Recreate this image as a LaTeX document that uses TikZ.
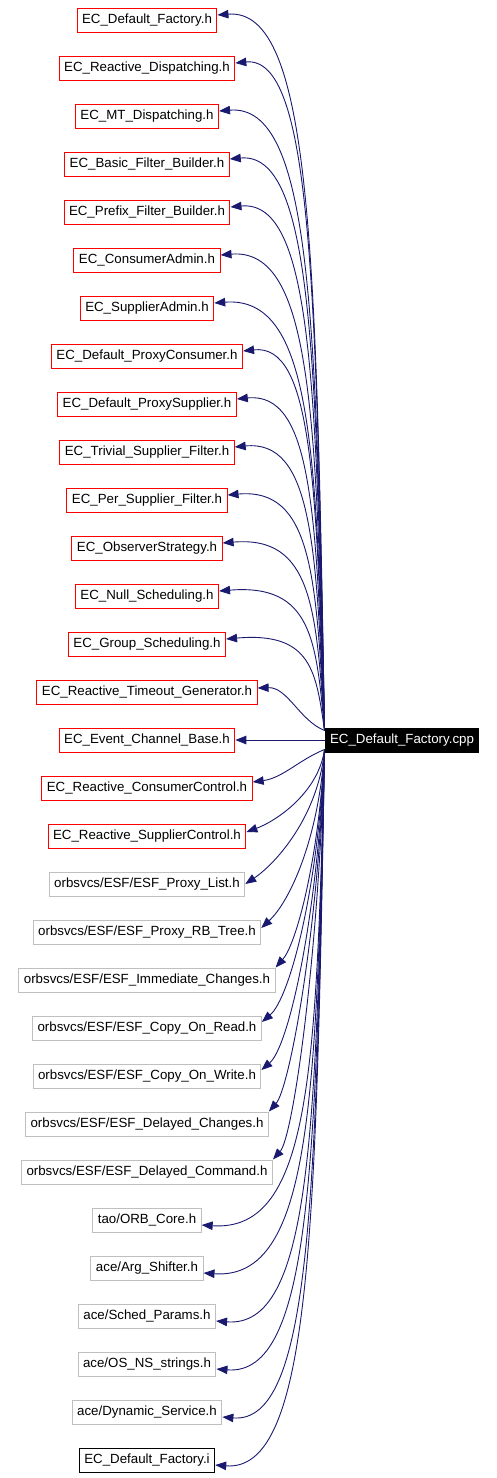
\documentclass[tikz,border=0pt]{standalone}
\usepackage{fontspec}
\setmainfont{Liberation Sans}
\usetikzlibrary{calc,arrows.meta}
\definecolor{edgeblue}{HTML}{191970}
\definecolor{boxgray}{HTML}{BFBFBF}
\tikzset{
  file/.style={draw, line width=1pt, font=\fontsize{13.3}{15}\selectfont,
    inner xsep=5pt, inner ysep=0pt, minimum height=24pt},
  local/.style={file, draw=red},
  extern/.style={file, draw=boxgray},
  plain/.style={file, draw=black},
  edge/.style={draw=edgeblue, line width=0.9pt, -{Triangle[length=11pt,width=8.5pt]}},
}
\begin{document}
\begin{tikzpicture}[x=1pt,y=-1pt]
  \useasboundingbox (0,0) rectangle (496,1478);
  % Archivo raiz
  \node[file, fill=black, text=white] (root) at (402,740) {EC\_Default\_Factory.cpp};
  \coordinate (bend) at (312,0);
  \coordinate (top) at ([yshift=-3pt]root.north west);
  \coordinate (bot) at ([yshift=3pt]root.south west);
  % Cabeceras locales
  \node[local] (n0) at (147,20) {EC\_Default\_Factory.h};
  \node[local] (n1) at (147,68) {EC\_Reactive\_Dispatching.h};
  \node[local] (n2) at (147,116) {EC\_MT\_Dispatching.h};
  \node[local] (n3) at (147,164) {EC\_Basic\_Filter\_Builder.h};
  \node[local] (n4) at (147,212) {EC\_Prefix\_Filter\_Builder.h};
  \node[local] (n5) at (147,260) {EC\_ConsumerAdmin.h};
  \node[local] (n6) at (147,308) {EC\_SupplierAdmin.h};
  \node[local] (n7) at (147,356) {EC\_Default\_ProxyConsumer.h};
  \node[local] (n8) at (147,404) {EC\_Default\_ProxySupplier.h};
  \node[local] (n9) at (147,452) {EC\_Trivial\_Supplier\_Filter.h};
  \node[local] (n10) at (147,500) {EC\_Per\_Supplier\_Filter.h};
  \node[local] (n11) at (147,548) {EC\_ObserverStrategy.h};
  \node[local] (n12) at (147,596) {EC\_Null\_Scheduling.h};
  \node[local] (n13) at (147,644) {EC\_Group\_Scheduling.h};
  \node[local] (n14) at (147,692) {EC\_Reactive\_Timeout\_Generator.h};
  \node[local] (n15) at (147,740) {EC\_Event\_Channel\_Base.h};
  \node[local] (n16) at (147,788) {EC\_Reactive\_ConsumerControl.h};
  \node[local] (n17) at (147,836) {EC\_Reactive\_SupplierControl.h};
  % Cabeceras externas
  \node[extern] (n18) at (147,884) {orbsvcs/ESF/ESF\_Proxy\_List.h};
  \node[extern] (n19) at (147,932) {orbsvcs/ESF/ESF\_Proxy\_RB\_Tree.h};
  \node[extern] (n20) at (147,980) {orbsvcs/ESF/ESF\_Immediate\_Changes.h};
  \node[extern] (n21) at (147,1028) {orbsvcs/ESF/ESF\_Copy\_On\_Read.h};
  \node[extern] (n22) at (147,1076) {orbsvcs/ESF/ESF\_Copy\_On\_Write.h};
  \node[extern] (n23) at (147,1124) {orbsvcs/ESF/ESF\_Delayed\_Changes.h};
  \node[extern] (n24) at (147,1172) {orbsvcs/ESF/ESF\_Delayed\_Command.h};
  \node[extern] (n25) at (147,1220) {tao/ORB\_Core.h};
  \node[extern] (n26) at (147,1268) {ace/Arg\_Shifter.h};
  \node[extern] (n27) at (147,1316) {ace/Sched\_Params.h};
  \node[extern] (n28) at (147,1364) {ace/OS\_NS\_strings.h};
  \node[extern] (n29) at (147,1412) {ace/Dynamic\_Service.h};
  \node[plain] (n30) at (147,1460) {EC\_Default\_Factory.i};
  % Flechas hacia arriba
  \draw[edge] (top) .. controls ($(top)!.67!(bend |- n0.east)$) and (bend |- n0.north) .. ([yshift=5pt]n0.east);
  \draw[edge] (top) .. controls ($(top)!.67!(bend |- n1.east)$) and (bend |- n1.north) .. ([yshift=5pt]n1.east);
  \draw[edge] (top) .. controls ($(top)!.67!(bend |- n2.east)$) and (bend |- n2.north) .. ([yshift=5pt]n2.east);
  \draw[edge] (top) .. controls ($(top)!.67!(bend |- n3.east)$) and (bend |- n3.north) .. ([yshift=5pt]n3.east);
  \draw[edge] (top) .. controls ($(top)!.67!(bend |- n4.east)$) and (bend |- n4.north) .. ([yshift=5pt]n4.east);
  \draw[edge] (top) .. controls ($(top)!.67!(bend |- n5.east)$) and (bend |- n5.north) .. ([yshift=5pt]n5.east);
  \draw[edge] (top) .. controls ($(top)!.67!(bend |- n6.east)$) and (bend |- n6.north) .. ([yshift=5pt]n6.east);
  \draw[edge] (top) .. controls ($(top)!.67!(bend |- n7.east)$) and (bend |- n7.north) .. ([yshift=5pt]n7.east);
  \draw[edge] (top) .. controls ($(top)!.67!(bend |- n8.east)$) and (bend |- n8.north) .. ([yshift=5pt]n8.east);
  \draw[edge] (top) .. controls ($(top)!.67!(bend |- n9.east)$) and (bend |- n9.north) .. ([yshift=5pt]n9.east);
  \draw[edge] (top) .. controls ($(top)!.67!(bend |- n10.east)$) and (bend |- n10.north) .. ([yshift=5pt]n10.east);
  \draw[edge] (top) .. controls ($(top)!.67!(bend |- n11.east)$) and (bend |- n11.north) .. ([yshift=5pt]n11.east);
  \draw[edge] (top) .. controls ($(top)!.67!(bend |- n12.east)$) and (bend |- n12.north) .. ([yshift=5pt]n12.east);
  \draw[edge] (top) .. controls ($(top)!.67!(bend |- n13.east)$) and (bend |- n13.north) .. ([yshift=5pt]n13.east);
  \draw[edge] (top) .. controls ($(top)+(-25,-10)$) and ($(n14.east)+(30,-5)$) .. ([yshift=4pt]n14.east);
  % Flecha recta
  \draw[edge] (root) -- (n15);
  % Flechas hacia abajo
  \draw[edge] (bot) .. controls ($(bot)+(-25,10)$) and ($(n16.east)+(30,-10)$) .. ([yshift=6pt]n16.east);
  \draw[edge] (bot) .. controls ($(bot)!.5!(bend |- n17.east)$) and ($(n17.east)+(30,-15)$) .. ([yshift=4pt]n17.east);
  \draw[edge] (bot) .. controls ($(bot)!.5!(bend |- n18.east)$) and ($(n18.east)+(30,-20)$) .. (n18.east);
  \draw[edge] (bot) .. controls ($(bot)!.5!(bend |- n19.east)$) and ($(n19.east)+(28,-30)$) .. ([yshift=4pt]n19.east);
  \draw[edge] (bot) .. controls ($(bot)!.5!(bend |- n20.east)$) and ($(n20.east)+(20,-35)$) .. (n20.north east);
  \draw[edge] (bot) .. controls ($(bot)!.5!(bend |- n21.east)$) and ($(n21.east)+(28,-30)$) .. ([yshift=6pt]n21.east);
  \draw[edge] (bot) .. controls ($(bot)!.5!(bend |- n22.east)$) and ($(n22.east)+(28,-30)$) .. ([yshift=6pt]n22.east);
  \draw[edge] (bot) .. controls ($(bot)!.5!(bend |- n23.east)$) and ($(n23.east)+(20,-35)$) .. (n23.north east);
  \draw[edge] (bot) .. controls ($(bot)!.5!(bend |- n24.east)$) and ($(n24.east)+(20,-35)$) .. (n24.north east);
  \draw[edge] (bot) .. controls ($(bot)!.67!(bend |- n25.east)$) and (bend |- n25.south) .. ([yshift=-5pt]n25.east);
  \draw[edge] (bot) .. controls ($(bot)!.67!(bend |- n26.east)$) and (bend |- n26.south) .. ([yshift=-5pt]n26.east);
  \draw[edge] (bot) .. controls ($(bot)!.67!(bend |- n27.east)$) and (bend |- n27.south) .. ([yshift=-5pt]n27.east);
  \draw[edge] (bot) .. controls ($(bot)!.67!(bend |- n28.east)$) and (bend |- n28.south) .. ([yshift=-5pt]n28.east);
  \draw[edge] (bot) .. controls ($(bot)!.67!(bend |- n29.east)$) and (bend |- n29.south) .. ([yshift=-5pt]n29.east);
  \draw[edge] (bot) .. controls ($(bot)!.67!(bend |- n30.east)$) and (bend |- n30.south) .. ([yshift=-5pt]n30.east);
\end{tikzpicture}
\end{document}
